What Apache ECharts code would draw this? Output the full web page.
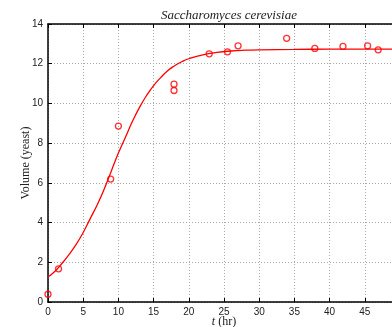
<!DOCTYPE html>
<html>
<head>
<meta charset="utf-8">
<script src="https://cdn.jsdelivr.net/npm/echarts@6/dist/echarts.min.js"></script>
<style>html,body{margin:0;padding:0;background:#fff}#c{width:392px;height:327px}</style>
</head>
<body>
<div id="c"></div>
<script>
// Measured data (time in hr, volume)
var obsTime   = [0, 1.5, 8.9, 10, 17.9, 17.9, 22.9, 25.5, 27, 33.9, 37.9, 41.9, 45.4, 46.9];
var obsVolume = [0.39, 1.67, 6.19, 8.86, 10.97, 10.65, 12.5, 12.6, 12.9, 13.28, 12.77, 12.87, 12.9, 12.7];
// Fitted curve
var fitTime   = [0, 1, 2, 3, 4, 5, 6, 7, 8, 9, 10, 11, 12, 13, 14, 15, 16, 17, 18, 19, 20, 22, 24, 26, 28, 30, 35, 40, 45, 50];
var fitVolume = [1.26, 1.55, 1.95, 2.4, 2.9, 3.5, 4.2, 4.9, 5.7, 6.6, 7.5, 8.3, 9.1, 9.8, 10.4, 10.9, 11.3, 11.65, 11.9, 12.1, 12.25, 12.45, 12.57, 12.64, 12.68, 12.7, 12.72, 12.73, 12.73, 12.73];
var xTicks = [0, 5, 10, 15, 20, 25, 30, 35, 40, 45, 50];
var yTicks = [0, 2, 4, 6, 8, 10, 12, 14];

var chart = echarts.init(document.getElementById('c'), null, {renderer: 'canvas'});
var obs = obsTime.map(function (t, i) { return [t, obsVolume[i]]; });
var fit = fitTime.map(function (t, i) { return [t, fitVolume[i]]; });
var lbl = {color: '#222', fontFamily: 'Liberation Sans', fontSize: 10};
chart.setOption({
  animation: false,
  title: {
    text: 'Saccharomyces cerevisiae',
    left: 224, top: 4, textAlign: 'center',
    textStyle: {fontFamily: 'Liberation Serif', fontStyle: 'italic', fontWeight: 'normal', fontSize: 13, color: '#222'}
  },
  grid: {left: 48, right: -8, top: 24, bottom: 25, outerBoundsMode: 'none', containLabel: false},
  xAxis: [{
    type: 'value', min: xTicks[0], max: xTicks[xTicks.length - 1], interval: 5,
    axisLine: {lineStyle: {color: '#000', width: 1.5}},
    axisTick: {inside: true, length: 4, lineStyle: {color: '#000'}},
    axisLabel: Object.assign({margin: 5}, lbl),
    splitLine: {show: true, lineStyle: {color: '#aaa', type: [1, 2], width: 1}},
    name: '{i|t} {n|(hr)}', nameLocation: 'middle', nameGap: 14, nameMoveOverlap: false,
    nameTextStyle: {rich: {
      i: {fontFamily: 'Liberation Serif', fontStyle: 'italic', fontSize: 12, color: '#222'},
      n: {fontFamily: 'Liberation Serif', fontSize: 12, color: '#222'}
    }}
  }, {
    type: 'value', position: 'top', min: xTicks[0], max: xTicks[xTicks.length - 1], interval: 5,
    axisLine: {show: true, lineStyle: {color: '#000', width: 1.5}},
    axisTick: {show: true, inside: true, length: 4, lineStyle: {color: '#000'}},
    axisLabel: {show: false}, splitLine: {show: false}
  }],
  yAxis: [{
    type: 'value', min: yTicks[0], max: yTicks[yTicks.length - 1], interval: 2,
    axisLine: {show: true, lineStyle: {color: '#000', width: 1.5}},
    axisTick: {show: true, inside: true, length: 4, lineStyle: {color: '#000'}},
    axisLabel: Object.assign({margin: 5}, lbl),
    splitLine: {show: true, lineStyle: {color: '#aaa', type: [1, 2], width: 1}},
    name: 'Volume (yeast)', nameLocation: 'middle', nameGap: 16, nameRotate: 90, nameMoveOverlap: false,
    nameTextStyle: {fontFamily: 'Liberation Serif', fontSize: 12, color: '#222'}
  }],
  series: [{
    type: 'line', data: fit, smooth: true, showSymbol: false,
    lineStyle: {color: '#f00', width: 1.3}, z: 3
  }, {
    type: 'scatter', data: obs, symbol: 'circle', symbolSize: 6,
    itemStyle: {color: 'rgba(0,0,0,0)', borderColor: '#f00', borderWidth: 1.3}, z: 4
  }]
});
</script>
</body>
</html>
